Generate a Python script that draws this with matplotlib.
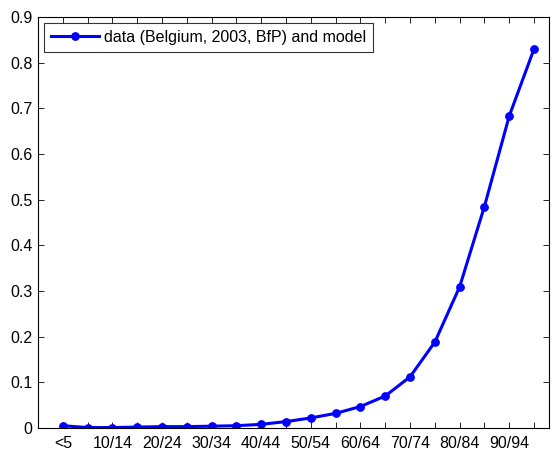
import matplotlib
matplotlib.use('Agg')
import matplotlib.pyplot as plt
import numpy as np

plt.rcParams['font.family'] = ['Liberation Sans', 'DejaVu Sans']

# age groups (5-year bins) and the fitted rates
age_groups = ['<5', '5/9', '10/14', '15/19', '20/24', '25/29', '30/34', '35/39',
              '40/44', '45/49', '50/54', '55/59', '60/64', '65/69', '70/74',
              '75/79', '80/84', '85/89', '90/94', '95+']
rates = [0.005, 0.001, 0.001, 0.002, 0.003, 0.003, 0.004, 0.005, 0.008,
         0.014, 0.022, 0.032, 0.047, 0.070, 0.112, 0.188, 0.309, 0.485,
         0.683, 0.830]
legend_label = 'data (Belgium, 2003, BfP) and model'

x = np.arange(1, len(age_groups) + 1)

fig = plt.figure(figsize=(5.55, 4.53), dpi=100)
ax = fig.add_axes([0.0685, 0.0552, 0.9205, 0.9073])

ax.plot(x, rates, color='#0000ff', linewidth=2.2, marker='o',
        markersize=5.3, label=legend_label)

ax.set_xlim(0, 20.6)
ax.set_ylim(0, 0.9)
ax.set_xticks(x)
# only every other age group gets a label
ax.set_xticklabels([g if i % 2 == 0 else '' for i, g in enumerate(age_groups)])
ax.set_yticks(np.arange(0, 0.91, 0.1))
ax.set_yticklabels(['0'] + ['%.1f' % v for v in np.arange(0.1, 0.91, 0.1)])

ax.tick_params(direction='in', top=True, right=True, length=4, width=0.6,
               labelsize=11.5)
ax.tick_params(axis='x', pad=6)
ax.tick_params(axis='y', pad=4)
for s in ax.spines.values():
    s.set_linewidth(0.8)

leg = ax.legend(loc='upper left', fontsize=11.5, frameon=True, fancybox=False,
                borderaxespad=0.35, handlelength=3.0, borderpad=0.45,
                handletextpad=0.3)
leg.get_frame().set_edgecolor('black')
leg.get_frame().set_linewidth(0.8)

fig.savefig('out.png', dpi=100)
